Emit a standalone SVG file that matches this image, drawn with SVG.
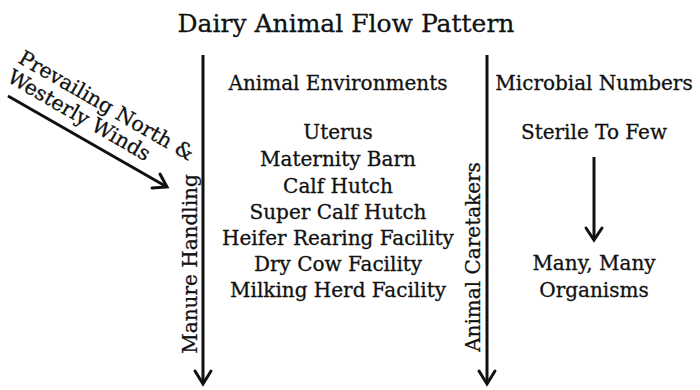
<svg xmlns="http://www.w3.org/2000/svg" width="700" height="390" viewBox="0 0 700 390">
<style>
text{font-family:"DejaVu Serif","Liberation Serif",serif;fill:#111;stroke:#111;stroke-width:0.3}
.t{font-size:25px}
.l{font-size:20px;text-anchor:middle}
.r{font-size:20px}
.w{font-size:20.5px}
.ln{stroke:#111;stroke-width:3;fill:none}
.hd{stroke:#111;stroke-width:3;fill:none;stroke-linecap:round;stroke-linejoin:miter}
</style>
<rect width="700" height="390" fill="#fff"/>
<g id="title"><text class="t" x="346" y="32" text-anchor="middle">Dairy Animal Flow Pattern</text></g>
<g id="connectors">
<line class="ln" x1="203" y1="55" x2="203" y2="384"/>
<polyline class="hd" points="195,371 203,384 211,371"/>
<line class="ln" x1="487" y1="55" x2="487" y2="384"/>
<polyline class="hd" points="479,371 487,384 495,371"/>
<line class="ln" x1="594" y1="157" x2="594" y2="240"/>
<polyline class="hd" points="586,228 594,240 602,228"/>
<line class="ln" x1="8" y1="96" x2="167" y2="187"/>
<polyline class="hd" points="152,188 167,187 160,174"/>
</g>
<g id="wind">
<text class="w" transform="translate(17,62) rotate(30)">Prevailing North &amp;</text>
<text class="w" transform="translate(6,81) rotate(30)">Westerly Winds</text>
</g>
<g id="manure"><text class="r" text-anchor="middle" transform="translate(197,264) rotate(-90)">Manure Handling</text></g>
<g id="caretakers"><text class="r" text-anchor="middle" transform="translate(480,257) rotate(-90)">Animal Caretakers</text></g>
<g id="environments">
<text class="l" x="338" y="90">Animal Environments</text>
<text class="l" x="338" y="139">Uterus</text>
<text class="l" x="338" y="166">Maternity Barn</text>
<text class="l" x="338" y="193">Calf Hutch</text>
<text class="l" x="338" y="219">Super Calf Hutch</text>
<text class="l" x="338" y="245">Heifer Rearing Facility</text>
<text class="l" x="338" y="271">Dry Cow Facility</text>
<text class="l" x="338" y="297">Milking Herd Facility</text>
</g>
<g id="microbes">
<text class="l" x="594" y="90">Microbial Numbers</text>
<text class="l" x="594" y="139">Sterile To Few</text>
<text class="l" x="594" y="270">Many, Many</text>
<text class="l" x="594" y="297">Organisms</text>
</g>
</svg>
